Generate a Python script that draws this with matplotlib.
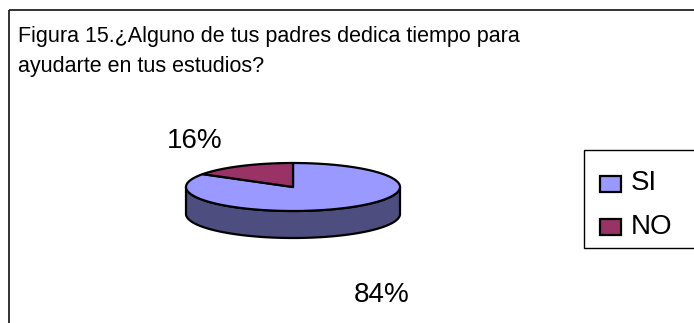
import numpy as np
import matplotlib
matplotlib.use("Agg")
from matplotlib import pyplot as plt
from matplotlib.patches import Polygon, Rectangle

plt.rcParams['font.family'] = ['Liberation Sans', 'DejaVu Sans']

# datos de la encuesta
categorias = ['SI', 'NO']
porcentajes = [84, 16]
colores_tapa = ['#9999FF', '#993366']
colores_lado = ['#4D4D80', '#4D1A33']
titulo = ['Figura 15.¿Alguno de tus padres dedica tiempo para',
          'ayudarte en tus estudios?']

W, H = 694, 323
fig = plt.figure(figsize=(W / 100, H / 100), dpi=100)
ax = fig.add_axes([0, 0, 1, 1])
ax.set_xlim(0, W)
ax.set_ylim(H, 0)
ax.axis('off')

# marco del gráfico
ax.add_patch(Rectangle((9.5, 9.5), W + 20, H + 20, fill=False, ec='#222222', lw=1.3))

# título en dos líneas
for k, linea in enumerate(titulo):
    ax.text(18, 42 + 30 * k, linea, fontsize=15.5, va='baseline', ha='left')

# pastel 3D: elipse superior + pared frontal
cx, cy = 293, 187
rx, ry = 107, 24
prof = 27


def punto(ang):
    a = np.radians(ang)
    return cx + rx * np.cos(a), cy - ry * np.sin(a)


total = sum(porcentajes)
angs = [90]
for p in porcentajes:
    angs.append(angs[-1] - 360 * p / total)

# pared lateral (solo la mitad frontal, 180..360 grados)
for i in range(len(porcentajes)):
    a0, a1 = angs[i + 1], angs[i]
    t = np.linspace(a0, a1, 400)
    tn = np.mod(t, 360)
    frente = (tn >= 180) & (tn <= 360)
    if not frente.any():
        continue
    tt = t[frente]
    xs, ys = punto(tt)
    pts = np.column_stack([np.r_[xs, xs[::-1]], np.r_[ys, ys[::-1] + prof]])
    ax.add_patch(Polygon(pts, closed=True, fc=colores_lado[i], ec='black', lw=1.6, joinstyle='round'))

# tapas
for i in range(len(porcentajes)):
    a0, a1 = angs[i + 1], angs[i]
    t = np.linspace(a0, a1, 300)
    xs, ys = punto(t)
    pts = np.column_stack([np.r_[cx, xs], np.r_[cy, ys]])
    ax.add_patch(Polygon(pts, closed=True, fc=colores_tapa[i], ec='black', lw=1.6, joinstyle='round'))

# etiquetas de porcentaje, fuera del pastel
for i, p in enumerate(porcentajes):
    mid = np.radians((angs[i] + angs[i + 1]) / 2)
    c, s = np.cos(mid), np.sin(mid)
    if s > 0:
        lx, ly, ha = cx + 147 * c, cy - 52 * s, 'right'
    else:
        lx, ly, ha = cx + 183 * c, cy - 52 * s + 62, 'center'
    ax.text(lx, ly, f'{p}%', fontsize=20, ha=ha, va='center')

# leyenda
ax.add_patch(Rectangle((584.5, 149.5), 130, 98, fill=False, ec='black', lw=1.0))
for i, cat in enumerate(categorias):
    y = 183.5 + 43 * i
    ax.add_patch(Rectangle((600, y - 8), 21, 16, fc=colores_tapa[i], ec='black', lw=1.6))
    ax.text(631, y, cat, fontsize=20, va='center', ha='left')

fig.savefig('out.png', dpi=100)
